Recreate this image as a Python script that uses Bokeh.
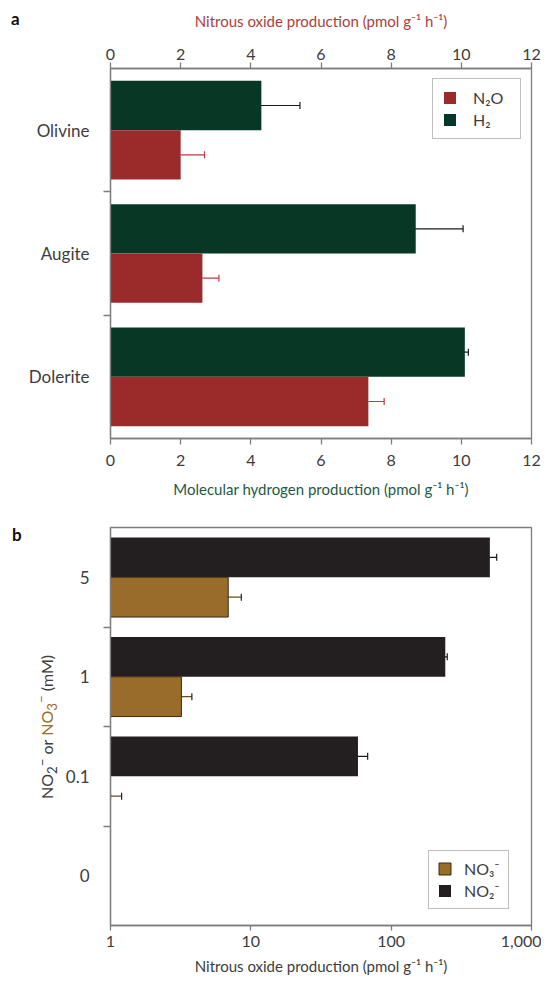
import numpy as np
from bokeh.plotting import figure
from bokeh.layouts import column, row
from bokeh.models import (Range1d, LinearAxis, LogAxis, FixedTicker, Whisker, TeeHead,
                          ColumnDataSource, Legend, LegendItem, Div)
from bokeh.embed import file_html
from bokeh.resources import INLINE

# ---------------- data ----------------
minerals = ["Olivine", "Augite", "Dolerite"]
h2 = [4.3, 8.7, 10.1]
h2_err = [1.1, 1.35, 0.1]
n2o = [2.0, 2.62, 7.35]
n2o_err = [0.68, 0.47, 0.45]
x_ticks_a = [0, 2, 4, 6, 8, 10, 12]

conc = ["5", "1", "0.1", "0"]
no2 = [505, 243, 58]
no2_err = [60, 8, 10]
no3 = [6.9, 3.2, 1.0]
no3_err = [1.65, 0.6, 0.2]
x_ticks_b = [1, 10, 100, 1000]
x_tick_labels_b = ["1", "10", "100", "1,000"]

# ---------------- style ----------------
FONT = "Lato"
TXT = "#3d3d3d"
AX = "#7d7d7d"
RED = "#9b2a2b"
GREEN = "#073826"
BLACK = "#231f20"
BROWN = "#9a6c2a"
FS = "15px"
FS_TICK = "16px"
FS_CAT = "17px"


def style_axis(ax):
    ax.axis_line_color = AX
    ax.axis_line_width = 1.3
    ax.major_tick_line_color = AX
    ax.major_tick_line_width = 1.3
    ax.major_tick_out = 6
    ax.major_tick_in = 0
    ax.minor_tick_line_color = None
    ax.major_label_text_font = FONT
    ax.major_label_text_font_size = FS_TICK
    ax.major_label_text_color = TXT
    ax.axis_label_text_font = FONT
    ax.axis_label_text_font_size = FS
    ax.axis_label_text_font_style = "normal"
    ax.axis_label_text_color = TXT


def cat_axis(ticks, labels, bounds):
    ax = LinearAxis(ticker=FixedTicker(ticks=list(ticks), minor_ticks=list(bounds)))
    style_axis(ax)
    ax.major_label_text_font_size = FS_CAT
    ax.major_label_overrides = {float(t): l for t, l in zip(ticks, labels)}
    ax.major_tick_line_color = None
    ax.major_tick_out = 0
    ax.minor_tick_line_color = AX
    ax.minor_tick_line_width = 1.3
    ax.minor_tick_out = 7
    ax.minor_tick_in = 0
    ax.major_label_standoff = 14
    return ax


def style_legend(lg):
    lg.border_line_color = AX
    lg.border_line_width = 1.3
    lg.background_fill_color = "white"
    lg.background_fill_alpha = 1
    lg.label_text_font = FONT
    lg.label_text_font_size = FS_TICK
    lg.label_text_color = TXT
    lg.glyph_width = 15
    lg.glyph_height = 15
    lg.label_height = 15
    lg.spacing = 3
    lg.padding = 8
    lg.label_standoff = 12


# ---------------- panel a ----------------
na = len(minerals)
ya = np.arange(na)[::-1] + 0.5
src_a = ColumnDataSource(dict(
    y_h2=ya + 0.2, y_n2o=ya - 0.2,
    h2=h2, n2o=n2o,
    h2_lo=np.array(h2) - np.array(h2_err), h2_hi=np.array(h2) + np.array(h2_err),
    n2o_hi=np.array(n2o) + np.array(n2o_err),
))

pa = figure(output_backend="svg", toolbar_location=None,
            width=519, height=508,
            x_range=Range1d(0, 12), y_range=Range1d(0, na),
            x_axis_location=None, y_axis_location=None,
            min_border_left=88, min_border_right=10,
            min_border_top=68, min_border_bottom=70)
pa.grid.visible = False
pa.outline_line_color = AX
pa.outline_line_width = 1.3

top = LinearAxis(ticker=FixedTicker(ticks=x_ticks_a),
                 axis_label="Nitrous oxide production (pmol g\u207b\u00b9 h\u207b\u00b9)")
style_axis(top)
top.axis_label_text_color = "#b03c3c"
top.major_label_standoff = 3
top.axis_label_standoff = 16
pa.add_layout(top, "above")

bot = LinearAxis(ticker=FixedTicker(ticks=x_ticks_a),
                 axis_label="Molecular hydrogen production (pmol g\u207b\u00b9 h\u207b\u00b9)")
style_axis(bot)
bot.axis_label_text_color = "#1e5a3f"
bot.major_label_standoff = 10
bot.axis_label_standoff = 11
pa.add_layout(bot, "below")

pa.add_layout(cat_axis(ya, minerals, np.arange(1, na)), "left")

r_h2 = pa.hbar(y="y_h2", left=0, right="h2", height=0.4, source=src_a,
               fill_color=GREEN, line_color=None)
r_n2o = pa.hbar(y="y_n2o", left=0, right="n2o", height=0.4, source=src_a,
                fill_color=RED, line_color=None)

pa.add_layout(Whisker(base="y_h2", lower="h2_lo", upper="h2_hi", dimension="width",
                      source=src_a, line_color="#1a1a1a", line_width=1.2,
                      upper_head=TeeHead(size=7, line_color="#1a1a1a", line_width=1.2),
                      lower_head=TeeHead(size=7, line_color="#1a1a1a", line_width=1.2)))
pa.add_layout(Whisker(base="y_n2o", lower="n2o", upper="n2o_hi", dimension="width",
                      source=src_a, line_color="#c0393b", line_width=1.2,
                      upper_head=TeeHead(size=7, line_color="#c0393b", line_width=1.2),
                      lower_head=None))

lg_a = Legend(items=[LegendItem(label="N\u2082O", renderers=[r_n2o]),
                     LegendItem(label="H\u2082", renderers=[r_h2])],
              location="top_right")
style_legend(lg_a)
lg_a.margin = 10
lg_a.padding = 9
lg_a.label_standoff = 16
lg_a.label_width = 38
pa.add_layout(lg_a)

div_a = Div(width=22, height=508, margin=0, text=(
    '<div style="position:relative;width:22px;height:508px;">'
    '<div style="position:absolute;left:11px;top:9px;font-family:Lato;font-weight:bold;'
    'font-size:17px;line-height:20px;color:#111;">a</div></div>'))

# ---------------- panel b ----------------
nb = len(conc)
yb = np.arange(nb)[::-1] + 0.5
k = len(no2)
src_b = ColumnDataSource(dict(
    y_no2=yb[:k] + 0.2, y_no3=yb[:k] - 0.2,
    no2=no2, no3=no3,
    no2_lo=np.array(no2) - np.array(no2_err), no2_hi=np.array(no2) + np.array(no2_err),
    no3_lo=np.maximum(np.array(no3) - np.array(no3_err), 1.0),
    no3_hi=np.array(no3) + np.array(no3_err),
))

pb = figure(output_backend="svg", toolbar_location=None,
            width=479, height=469,
            x_range=Range1d(1, 1000), y_range=Range1d(0, nb),
            x_axis_type="log", x_axis_location=None, y_axis_location=None,
            min_border_left=48, min_border_right=10,
            min_border_top=19, min_border_bottom=49)
pb.grid.visible = False
pb.outline_line_color = AX
pb.outline_line_width = 1.3

bb = LogAxis(ticker=FixedTicker(ticks=x_ticks_b),
             axis_label="Nitrous oxide production (pmol g\u207b\u00b9 h\u207b\u00b9)")
style_axis(bb)
bb.major_label_overrides = {t: l for t, l in zip(x_ticks_b, x_tick_labels_b)}
bb.major_tick_out = 5
bb.major_label_standoff = 5
bb.axis_label_standoff = 7
pb.add_layout(bb, "below")

pb.add_layout(cat_axis(yb, conc, np.arange(1, nb)), "left")

r_no2 = pb.hbar(y="y_no2", left=1, right="no2", height=0.4, source=src_b,
                fill_color=BLACK, line_color=None)
r_no3 = pb.hbar(y="y_no3", left=1, right="no3", height=0.4, source=src_b,
                fill_color=BROWN, line_color="#3a2a10", line_width=1)

pb.add_layout(Whisker(base="y_no2", lower="no2_lo", upper="no2_hi", dimension="width",
                      source=src_b, line_color="#1a1a1a", line_width=1.2,
                      upper_head=TeeHead(size=7, line_color="#1a1a1a", line_width=1.2),
                      lower_head=TeeHead(size=7, line_color="#1a1a1a", line_width=1.2)))
pb.add_layout(Whisker(base="y_no3", lower="no3_lo", upper="no3_hi", dimension="width",
                      source=src_b, line_color="#6b4a1e", line_width=1.2,
                      upper_head=TeeHead(size=7, line_color="#222", line_width=1.2),
                      lower_head=TeeHead(size=7, line_color="#222", line_width=1.2)))

lg_b = Legend(items=[LegendItem(label="NO\u2083\u207b", renderers=[r_no3]),
                     LegendItem(label="NO\u2082\u207b", renderers=[r_no2])],
              location=(318, 16))
style_legend(lg_b)
lg_b.margin = 0
pb.add_layout(lg_b)

ylab_html = ('NO<sub>2</sub><sup>\u2212</sup> or '
             '<span style="color:%s;">NO<sub>3</sub><sup>\u2212</sup></span> (mM)' % BROWN)
div_b = Div(width=62, height=469, margin=0, text=(
    '<div style="position:relative;width:62px;height:469px;">'
    '<div style="position:absolute;left:12px;top:17px;font-family:Lato;font-weight:bold;'
    'font-size:17px;line-height:20px;color:#111;">b</div>'
    '<div style="position:absolute;left:47px;top:219px;transform:translate(-50%,-50%) '
    'rotate(-90deg);white-space:nowrap;font-family:Lato;font-size:16px;line-height:18px;'
    'color:' + TXT + ';">' + ylab_html + '</div></div>'))

layout = column(row(div_a, pa), row(div_b, pb))
open("out.html", "w").write(file_html(layout, INLINE))
